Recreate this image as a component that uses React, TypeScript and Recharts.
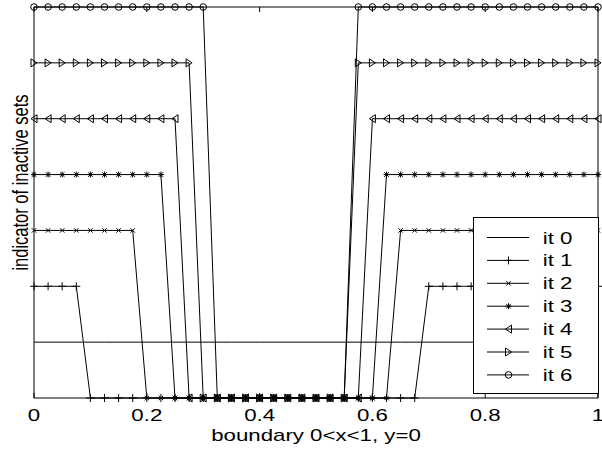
import React from 'react';
import { LineChart, Line, XAxis, YAxis, Legend } from 'recharts';

// grid points along the boundary 0<x<1
const xGrid = [
  0, 0.025, 0.05, 0.075, 0.1, 0.125, 0.15, 0.175, 0.2, 0.225,
  0.25, 0.275, 0.3, 0.325, 0.35, 0.375, 0.4, 0.425, 0.45, 0.475,
  0.5, 0.525, 0.55, 0.575, 0.6, 0.625, 0.65, 0.675, 0.7, 0.725,
  0.75, 0.775, 0.8, 0.825, 0.85, 0.875, 0.9, 0.925, 0.95, 0.975, 1,
];

const it0 = [
  1, 1, 1, 1, 1, 1, 1, 1, 1, 1,
  1, 1, 1, 1, 1, 1, 1, 1, 1, 1,
  1, 1, 1, 1, 1, 1, 1, 1, 1, 1,
  1, 1, 1, 1, 1, 1, 1, 1, 1, 1, 1,
];
const it1 = [
  2, 2, 2, 2, 0, 0, 0, 0, 0, 0,
  0, 0, 0, 0, 0, 0, 0, 0, 0, 0,
  0, 0, 0, 0, 0, 0, 0, 0, 2, 2,
  2, 2, 2, 2, 2, 2, 2, 2, 2, 2, 2,
];
const it2 = [
  3, 3, 3, 3, 3, 3, 3, 3, 0, 0,
  0, 0, 0, 0, 0, 0, 0, 0, 0, 0,
  0, 0, 0, 0, 0, 0, 3, 3, 3, 3,
  3, 3, 3, 3, 3, 3, 3, 3, 3, 3, 3,
];
const it3 = [
  4, 4, 4, 4, 4, 4, 4, 4, 4, 4,
  0, 0, 0, 0, 0, 0, 0, 0, 0, 0,
  0, 0, 0, 0, 0, 4, 4, 4, 4, 4,
  4, 4, 4, 4, 4, 4, 4, 4, 4, 4, 4,
];
const it4 = [
  5, 5, 5, 5, 5, 5, 5, 5, 5, 5,
  5, 0, 0, 0, 0, 0, 0, 0, 0, 0,
  0, 0, 0, 0, 5, 5, 5, 5, 5, 5,
  5, 5, 5, 5, 5, 5, 5, 5, 5, 5, 5,
];
const it5 = [
  6, 6, 6, 6, 6, 6, 6, 6, 6, 6,
  6, 6, 0, 0, 0, 0, 0, 0, 0, 0,
  0, 0, 0, 6, 6, 6, 6, 6, 6, 6,
  6, 6, 6, 6, 6, 6, 6, 6, 6, 6, 6,
];
const it6 = [
  7, 7, 7, 7, 7, 7, 7, 7, 7, 7,
  7, 7, 7, 0, 0, 0, 0, 0, 0, 0,
  0, 0, 0, 7, 7, 7, 7, 7, 7, 7,
  7, 7, 7, 7, 7, 7, 7, 7, 7, 7, 7,
];

const xTicks = [0, 0.2, 0.4, 0.6, 0.8, 1];
const seriesNames = ['it 0', 'it 1', 'it 2', 'it 3', 'it 4', 'it 5', 'it 6'];
const seriesKeys = ['it0', 'it1', 'it2', 'it3', 'it4', 'it5', 'it6'];
const seriesValues = [it0, it1, it2, it3, it4, it5, it6];
const markerShapes = ['none', 'plus', 'cross', 'star', 'triLeft', 'triRight', 'circle'];

const data = xGrid.map((x, i) => {
  const row: Record<string, number> = { x };
  seriesKeys.forEach((k, j) => {
    row[k] = seriesValues[j][i];
  });
  return row;
});

const FONT = '"Liberation Sans", Arial, Helvetica, sans-serif';

const HText = ({ x, y, anchor = 'middle', children }: any) => (
  <text
    transform={`translate(${x},${y}) scale(1.31,1)`}
    textAnchor={anchor}
    fontSize={17}
    fontFamily={FONT}
    fill="#000"
  >
    {children}
  </text>
);

const Marker = ({ shape, cx, cy }: { shape: string; cx: number; cy: number }) => {
  const s = { stroke: '#000', fill: 'none', strokeWidth: 1 };
  switch (shape) {
    case 'plus':
      return <path d={`M${cx - 4},${cy}H${cx + 4}M${cx},${cy - 4}V${cy + 4}`} {...s} />;
    case 'cross':
      return (
        <path
          d={`M${cx - 2.2},${cy - 2.2}L${cx + 2.2},${cy + 2.2}M${cx - 2.2},${cy + 2.2}L${cx + 2.2},${cy - 2.2}`}
          {...s}
        />
      );
    case 'star':
      return (
        <path
          d={`M${cx - 3},${cy}H${cx + 3}M${cx},${cy - 3}V${cy + 3}M${cx - 2.3},${cy - 2.3}L${cx + 2.3},${cy + 2.3}M${cx - 2.3},${cy + 2.3}L${cx + 2.3},${cy - 2.3}`}
          {...s}
        />
      );
    case 'triLeft':
      return <polygon points={`${cx - 3},${cy} ${cx + 3},${cy - 4} ${cx + 3},${cy + 4}`} {...s} />;
    case 'triRight':
      return <polygon points={`${cx + 3},${cy} ${cx - 3},${cy - 4} ${cx - 3},${cy + 4}`} {...s} />;
    case 'circle':
      return <circle cx={cx} cy={cy} r={3.3} {...s} />;
    default:
      return null;
  }
};

const renderDot = (shape: string) => (props: any) => {
  const { cx, cy, index } = props;
  return (
    <g key={`dot-${shape}-${index}`}>
      <Marker shape={shape} cx={cx} cy={cy} />
    </g>
  );
};

const BottomTick = (p: any) => (
  <g>
    <line x1={p.x} x2={p.x} y1={p.y} y2={p.y - 5} stroke="#000" strokeWidth={1} />
    <HText x={p.x} y={p.y + 22.5}>
      {String(p.payload.value)}
    </HText>
  </g>
);

const TopTick = (p: any) => (
  <g>
    <line x1={p.x} x2={p.x} y1={p.y} y2={p.y + 5} stroke="#000" strokeWidth={1} />
  </g>
);

const XLabel = (props: any) => {
  const vb = props.viewBox;
  return (
    <HText x={vb.x + vb.width / 2} y={vb.y + 43}>
      boundary 0&lt;x&lt;1, y=0
    </HText>
  );
};

const YLabel = (props: any) => {
  const vb = props.viewBox;
  const cy = vb.y + vb.height * 0.449;
  return (
    <text
      transform={`translate(${vb.x + 28.3},${cy}) rotate(-90) scale(0.74,1)`}
      textAnchor="middle"
      fontSize={22.3}
      fontFamily={FONT}
      fill="#000"
    >
      indicator of inactive sets
    </text>
  );
};

const LegendContent = (props: any) => {
  const payload = props.payload || [];
  return (
    <svg width={126} height={177} style={{ display: 'block' }}>
      <rect x={0.5} y={0.5} width={125} height={176} fill="#fff" stroke="#000" strokeWidth={1} />
      {payload.map((entry: any, i: number) => {
        const cy = 20.5 + i * 22.9;
        const idx = seriesNames.indexOf(entry.value);
        return (
          <g key={entry.value}>
            <line x1={14} x2={56} y1={cy} y2={cy} stroke="#000" strokeWidth={1} />
            <Marker shape={markerShapes[idx]} cx={35.5} cy={cy} />
            <HText x={69.7} y={cy + 6} anchor="start">
              {entry.value}
            </HText>
          </g>
        );
      })}
    </svg>
  );
};

export default function App() {
  return (
    <div style={{ position: 'absolute', left: 0, top: 0, background: '#fff' }}>
      <LineChart
        width={602}
        height={452}
        data={data}
        margin={{ top: 0, right: 0, bottom: 0, left: 0 }}
      >
        <XAxis
          xAxisId="b"
          dataKey="x"
          type="number"
          domain={[0, 1]}
          ticks={xTicks}
          interval={0}
          height={54}
          tickSize={0}
          tickMargin={0}
          tickLine={false}
          axisLine={{ stroke: '#000', strokeWidth: 1 }}
          tick={<BottomTick />}
          label={{ content: XLabel }}
        />
        <XAxis
          xAxisId="t"
          dataKey="x"
          orientation="top"
          type="number"
          domain={[0, 1]}
          ticks={xTicks}
          interval={0}
          height={7}
          tickSize={0}
          tickMargin={0}
          tickLine={false}
          axisLine={{ stroke: '#000', strokeWidth: 1 }}
          tick={<TopTick />}
        />
        <YAxis
          yAxisId="l"
          type="number"
          domain={[0, 7]}
          width={34}
          tick={false}
          tickLine={false}
          axisLine={{ stroke: '#000', strokeWidth: 1 }}
          label={{ content: YLabel }}
        />
        <YAxis
          yAxisId="r"
          orientation="right"
          type="number"
          domain={[0, 7]}
          width={4}
          tick={false}
          tickLine={false}
          axisLine={{ stroke: '#000', strokeWidth: 1 }}
        />
        {seriesKeys.map((k, j) => (
          <Line
            key={k}
            xAxisId="b"
            yAxisId="l"
            type="linear"
            dataKey={k}
            name={seriesNames[j]}
            stroke="#000"
            strokeWidth={1}
            dot={markerShapes[j] === 'none' ? false : renderDot(markerShapes[j])}
            activeDot={false}
            isAnimationActive={false}
          />
        ))}
        <Legend
          layout="horizontal"
          verticalAlign="middle"
          align="center"
          wrapperStyle={{ left: 473, top: 217, width: 126, height: 177 }}
          content={LegendContent}
        />
      </LineChart>
    </div>
  );
}
